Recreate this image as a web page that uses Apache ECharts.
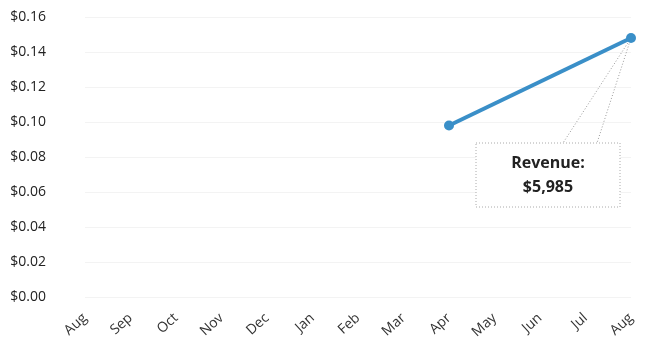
<!DOCTYPE html>
<html><head><meta charset="utf-8">
<script src="https://cdn.jsdelivr.net/npm/echarts@6/dist/echarts.min.js"></script>
<style>html,body{margin:0;padding:0;background:#fff}#c{width:659px;height:343px}</style>
</head><body><div id="c"></div>
<script>
const categories = ['Aug','Sep','Oct','Nov','Dec','Jan','Feb','Mar','Apr','May','Jun','Jul','Aug'];
const revenuePerUnit = [null,null,null,null,null,null,null,null,0.098,null,null,null,0.148];
const yTicks = [0,0.02,0.04,0.06,0.08,0.10,0.12,0.14,0.16];
const calloutLines = ['Revenue:', '$5,985'];

const chart = echarts.init(document.getElementById('c'), null, {renderer:'canvas'});
const font = '"Open Sans", "Noto Sans", sans-serif';
chart.setOption({
  animation:false,
  grid:{left:85, right:28, top:17, bottom:46, containLabel:false},
  xAxis:{type:'category', data:categories, boundaryGap:false,
    axisLine:{show:false}, axisTick:{show:false},
    axisLabel:{rotate:42, margin:19, fontSize:14, color:'#333', fontFamily:font, interval:0},
    splitLine:{show:false}},
  yAxis:{type:'value', min:0, max:0.16, interval:0.02,
    axisLine:{show:false}, axisTick:{show:false},
    axisLabel:{margin:39, fontSize:14, color:'#222', fontFamily:font,
      formatter:v=>'$'+v.toFixed(2)},
    splitLine:{lineStyle:{color:'#f3f3f3', width:1}}},
  series:[{type:'line', data:revenuePerUnit, connectNulls:true,
    symbol:'circle', symbolSize:10,
    lineStyle:{color:'#3a8fc8', width:4},
    itemStyle:{color:'#3a8fc8'}}]
});

const pt = chart.convertToPixel({xAxisIndex:0, yAxisIndex:0}, [12, revenuePerUnit[12]]);
const bx = pt[0]-155, by = pt[1]+105, bw = 144, bh = 64;
chart.setOption({graphic:[
  {type:'line', shape:{x1:pt[0], y1:pt[1], x2:bx+87, y2:by}, style:{stroke:'#999', lineWidth:1, lineDash:[1,2]}},
  {type:'line', shape:{x1:pt[0], y1:pt[1], x2:bx+121, y2:by}, style:{stroke:'#999', lineWidth:1, lineDash:[1,2]}},
  {type:'rect', shape:{x:bx, y:by, width:bw, height:bh}, style:{fill:'#fff', stroke:'#aaa', lineWidth:1, lineDash:[1,2]}},
  {type:'text', x:bx+bw/2, y:by+bh/2, style:{text:calloutLines.join('\n'), align:'center', verticalAlign:'middle',
    font:'bold 16px "Open Sans", "Noto Sans", sans-serif', fill:'#222', lineHeight:24}}
]});
</script></body></html>
